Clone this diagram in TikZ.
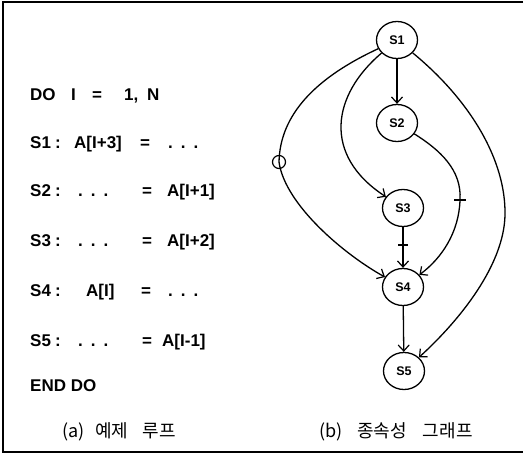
\documentclass[tikz,border=0pt]{standalone}
\usepackage{fontspec}
\setmainfont{Liberation Sans}
\newfontfamily\krfont{Noto Sans CJK KR}
\usetikzlibrary{arrows.meta,shapes.geometric}
\newcommand{\ddd}{.\hspace{8pt}.\hspace{8pt}.}
\tikzset{
  code/.style={font=\fontsize{17}{20}\selectfont\bfseries, inner sep=0pt, anchor=base west},
  eqs/.style={font=\fontsize{17}{20}\selectfont\bfseries, inner sep=0pt, anchor=base},
  st/.style={ellipse, draw, line width=1.3pt, minimum width=41pt, minimum height=37pt,
             inner sep=0pt, font=\fontsize{12.5}{14}\selectfont\bfseries},
  dep/.style={draw, line width=1.3pt, -{Straight Barb[length=6pt,width=11pt,line width=1.2pt]}},
  capt/.style={font=\krfont\fontsize{18}{21}\selectfont, inner sep=0pt},
  tick/.style={line width=1.3pt}
}
\begin{document}
\begin{tikzpicture}[x=1pt,y=-1pt]
\useasboundingbox (0,0) rectangle (524,454);
% frame
\coordinate (fa) at (523,2);
\coordinate (fb) at (3,2);
\coordinate (fc) at (3,452);
\coordinate (fd) at (523,452);
\draw[line width=1.3pt] (fa) -- (fb) -- (fc) -- (fd);

% listing
\node[code] (do) at (30,101) {DO};
\node[code] (doi) at (71,101) {I};
\node[eqs] (doeq) at (97,101) {=};
\node[code] (do1) at (124,101) {1,};
\node[code] (don) at (147,101) {N};

\node[code] (l1) at (30,149) {S1};
\node[eqs] (l1c) at (58,149) {:};
\node[code] (l1a) at (74,149) {A[I+3]};
\node[eqs] (l1e) at (145,149) {=};
\node[code] (l1d) at (168,149) {\ddd};

\node[code] (l2) at (30,197) {S2};
\node[eqs] (l2c) at (58,197) {:};
\node[code] (l2d) at (78,197) {\ddd};
\node[eqs] (l2e) at (147,197) {=};
\node[code] (l2a) at (167,197) {A[I+1]};

\node[code] (l3) at (30,247) {S3};
\node[eqs] (l3c) at (58,247) {:};
\node[code] (l3d) at (78,247) {\ddd};
\node[eqs] (l3e) at (147,247) {=};
\node[code] (l3a) at (167,247) {A[I+2]};

\node[code] (l4) at (30,296) {S4};
\node[eqs] (l4c) at (58,296) {:};
\node[code] (l4a) at (86,296) {A[I]};
\node[eqs] (l4e) at (146,296) {=};
\node[code] (l4d) at (168,296) {\ddd};

\node[code] (l5) at (30,346) {S5};
\node[eqs] (l5c) at (58,346) {:};
\node[code] (l5d) at (78,346) {\ddd};
\node[eqs] (l5e) at (147,346) {=};
\node[code] (l5a) at (162,346) {A[I-1]};

\node[code] (end) at (30,391) {END DO};

% captions
\node[capt] (ca) at (119,432) {(a)\hspace{0.6em}예제\hspace{0.8em}루프};
\node[capt] (cb) at (396,432) {(b)\hspace{0.8em}종속성\hspace{0.9em}그래프};

% graph
\node[st] (S1) at (397,40) {S1};
\node[st] (S2) at (397,123) {S2};
\node[st] (S3) at (403,208) {S3};
\node[st] (S4) at (403,287) {S4};
\node[st] (S5) at (404,371) {S5};

\coordinate (m1) at (279,162);
\coordinate (t1) at (460,200);
\coordinate (t2) at (403,245);

\draw[dep] (S1) -- (S2);
\draw[dep] (S3) -- (S4);
\draw[dep] (S4) -- (S5);
\draw[dep] (S1) .. controls (332,95) and (322,155) .. (S3);
\draw[line width=1.3pt] (S1) .. controls (315,78) and (280,115) .. (m1);
\draw[dep] (m1) .. controls (285,205) and (345,255) .. (S4);
\draw[line width=1.3pt] (S2) .. controls (440,150) and (462,170) .. (t1);
\draw[dep] (t1) .. controls (459,232) and (442,258) .. (S4);
\draw[dep] (S1) .. controls (470,100) and (506,160) .. (505,215) .. controls (504,265) and (460,320) .. (S5);

% marks
\node[circle, draw, line width=1.2pt, minimum size=13pt, inner sep=0pt] (mk) at (m1) {};
\draw[tick] ([xshift=-6pt]t1) -- ([xshift=6pt]t1);
\draw[tick] ([xshift=-5pt]t2) -- ([xshift=5pt]t2);
\end{tikzpicture}
\end{document}
